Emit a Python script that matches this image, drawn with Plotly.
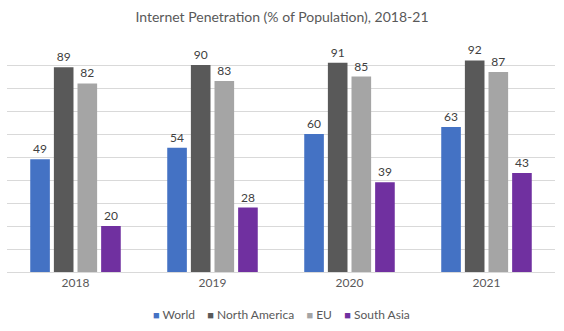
import plotly.graph_objects as go

years = ["2018", "2019", "2020", "2021"]
world = [49, 54, 60, 63]
north_america = [89, 90, 91, 92]
eu = [82, 83, 85, 87]
south_asia = [20, 28, 39, 43]

series = [
    ("World", world, "#4472C4"),
    ("North America", north_america, "#595959"),
    ("EU", eu, "#A5A5A5"),
    ("South Asia", south_asia, "#7030A0"),
]

FONT = "Lato, Carlito, Calibri, sans-serif"
W, H = 564, 331
M_T, M_B = 42, 59
PLOT_H = H - M_T - M_B

fig = go.Figure()
for name, vals, color in series:
    fig.add_trace(go.Bar(
        name=name, x=years, y=vals, showlegend=False,
        marker=dict(color=color, line=dict(width=0)),
        text=[str(v) for v in vals],
        textposition="outside",
        textfont=dict(family=FONT, size=12, color="#404040"),
        cliponaxis=False,
    ))

# Compact legend: coloured square swatch followed by the series name
legend_html = "&nbsp;&nbsp;&nbsp;&nbsp;".join(
    f"<span style='color:{color};font-size:11px'>■</span>&nbsp;{name}"
    for name, _, color in series
)
legend_y_px = 314  # from top of the figure
fig.add_annotation(
    text=legend_html, xref="paper", yref="paper",
    x=0.5, xanchor="center",
    y=(H - M_B - legend_y_px) / PLOT_H, yanchor="middle",
    showarrow=False, font=dict(family=FONT, size=12, color="#595959"),
)

fig.update_layout(
    width=W, height=H,
    margin=dict(l=7, r=9, t=M_T, b=M_B),
    paper_bgcolor="white", plot_bgcolor="white",
    barmode="group", bargap=0.31, bargroupgap=0.17,
    showlegend=False,
    font=dict(family=FONT, size=12, color="#595959"),
    title=dict(text="Internet Penetration (% of Population), 2018-21",
               x=0.5, xanchor="center", y=1 - 17 / H, yanchor="middle",
               yref="container",
               font=dict(family=FONT, size=14, color="#595959")),
    xaxis=dict(showgrid=False, showline=True, linecolor="#D9D9D9",
               linewidth=1, ticks="", tickfont=dict(size=12, color="#595959")),
    yaxis=dict(range=[0, 100], dtick=10, showgrid=True, gridcolor="#D9D9D9",
               gridwidth=1, showticklabels=False, zeroline=False,
               showline=False, ticks=""),
)

fig.write_html("out.html")
